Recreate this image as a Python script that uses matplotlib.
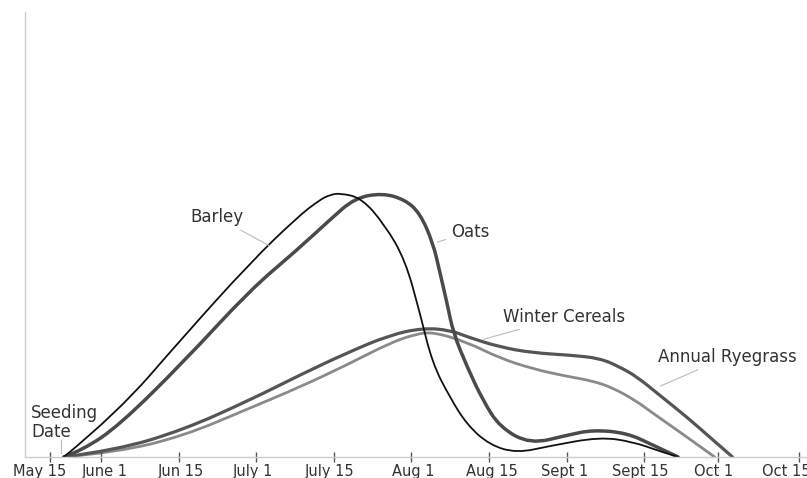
import numpy as np
import matplotlib
matplotlib.use('Agg')
import matplotlib.pyplot as plt
from matplotlib.path import Path
from matplotlib.patches import PathPatch

# x in half-month steps (June 1 = 1, Jun 15 = 2, ...), y = relative growth
tick_pos = [0.34, 1, 2, 3, 4, 5, 6, 7, 8, 8.95, 10]
label_pos = [0.21, 1.05, 2.03, 2.96, 3.95, 5.02, 6.04, 6.97, 7.95, 8.89, 9.83]
tick_labels = ['May 15', 'June 1', 'Jun 15', 'July 1', 'July 15', 'Aug 1',
               'Aug 15', 'Sept 1', 'Sept 15', 'Oct 1', 'Oct 15']

barley_x = [0.52, 1.21, 2.06, 2.92, 3.53, 3.82, 3.95, 4.08, 4.36, 4.66,
            4.92, 5.11, 5.27, 5.50, 5.72, 6.01, 6.36, 6.79, 7.43, 7.86, 8.20, 8.44]
barley_y = [0, 9.9, 27.0, 43.6, 53.9, 57.8, 58.9, 59.3, 58.2, 52.1,
            44.3, 32.4, 21.1, 13.3, 7.2, 2.7, 0.9, 2.5, 4.5, 3.4, 1.3, 0]

oats_x = [0.52, 0.77, 1.24, 2.06, 2.92, 3.50, 3.95, 4.27, 4.63, 4.92, 5.11,
          5.28, 5.37, 5.46, 5.54, 5.72, 5.92, 6.14, 6.53, 7.01, 7.34, 7.78,
          8.11, 8.44]
oats_y = [0, 1.6, 7.2, 21.3, 37.5, 46.1, 53.3, 58.2, 59.3, 57.8, 54.8,
          48.1, 41.3, 34.6, 27.9, 20.2, 12.8, 6.7, 2.9, 4.9, 6.1, 5.4,
          2.7, 0]

rye_x = [0.52, 1.21, 2.06, 2.92, 3.56, 4.17, 4.72, 5.15, 5.50, 5.72, 6.14,
         6.57, 7.04, 7.43, 7.69, 7.91, 8.20, 8.55, 8.89, 9.14]
rye_y = [0, 1.6, 6.1, 12.8, 18.4, 23.4, 27.4, 29.0, 28.5, 27.0, 24.7,
         23.4, 22.9, 22.2, 20.2, 18.0, 13.9, 9.0, 3.8, 0]

winter_x = [0.52, 1.21, 2.06, 2.92, 3.56, 4.17, 4.72, 5.05, 5.28, 5.72, 6.14,
            6.57, 6.98, 7.34, 7.60, 7.88, 8.11, 8.33, 8.55, 8.91]
winter_y = [0, 1.1, 4.7, 11.0, 15.7, 20.7, 25.6, 27.6, 28.1, 25.8, 22.2,
            19.8, 18.2, 17.1, 15.5, 12.8, 9.9, 7.2, 4.5, 0]


def curve(ax, xs, ys, **kw):
    # read points used as control points of a quadratic bezier chain
    pts = np.column_stack([xs, ys])
    verts = [pts[0]]
    codes = [Path.MOVETO]
    n = len(pts)
    for i in range(1, n - 1):
        end = pts[i + 1] if i == n - 2 else (pts[i] + pts[i + 1]) / 2
        verts += [pts[i], end]
        codes += [Path.CURVE3, Path.CURVE3]
    ax.add_patch(PathPatch(Path(verts, codes), fill=False, capstyle='round',
                           joinstyle='round', **kw))


fig = plt.figure(figsize=(8.07, 4.78), dpi=100)
ax = fig.add_axes([25/807, 21/478, 1 - 25/807, 445/478])

curve(ax, winter_x, winter_y, edgecolor='#8a8a8a', lw=2.0)
curve(ax, rye_x, rye_y, edgecolor='#555555', lw=2.3)
curve(ax, oats_x, oats_y, edgecolor='#4a4a4a', lw=2.5)
curve(ax, barley_x, barley_y, edgecolor='#111111', lw=1.3)

ax.set_xlim(0.02, 10.1)
ax.set_ylim(0, 100)

for s in ['top', 'right']:
    ax.spines[s].set_visible(False)
for s in ['left', 'bottom']:
    ax.spines[s].set_color('#cccccc')
    ax.spines[s].set_linewidth(1)

ax.set_yticks([])
# tick marks on major ticks, labels on (slightly offset) minor ticks
ax.set_xticks(tick_pos)
ax.set_xticklabels([''] * len(tick_pos))
ax.set_xticks(label_pos, minor=True)
ax.set_xticklabels(tick_labels, minor=True)
ax.tick_params(axis='x', which='major', direction='inout', length=7, width=1,
               color='#555555')
ax.tick_params(axis='x', which='minor', length=0, labelsize=10.5,
               labelcolor='#333333', pad=5)

txt = dict(fontsize=12, color='#333333')
line = dict(arrowstyle='-', color='#bbbbbb', lw=0.8)

ax.annotate('Barley', xy=(3.20, 47.2), xytext=(2.49, 53.9), ha='center',
            va='center', arrowprops=line, **txt)
ax.annotate('Oats', xy=(5.30, 48.1), xytext=(5.76, 50.6), ha='center',
            va='center', arrowprops=line, **txt)
ax.annotate('Winter Cereals', xy=(5.90, 26.3), xytext=(6.97, 31.5), ha='center',
            va='center', arrowprops=line, **txt)
ax.annotate('Annual Ryegrass', xy=(8.18, 15.7), xytext=(8.18, 22.5), ha='left',
            va='center', arrowprops=line, **txt)
ax.text(0.10, 7.8, 'Seeding\nDate', ha='left', va='center', linespacing=1.1, **txt)
ax.plot([0.49, 0.49], [0.9, 3.8], color='#bbbbbb', lw=0.8)

fig.savefig('out.png', dpi=100)
